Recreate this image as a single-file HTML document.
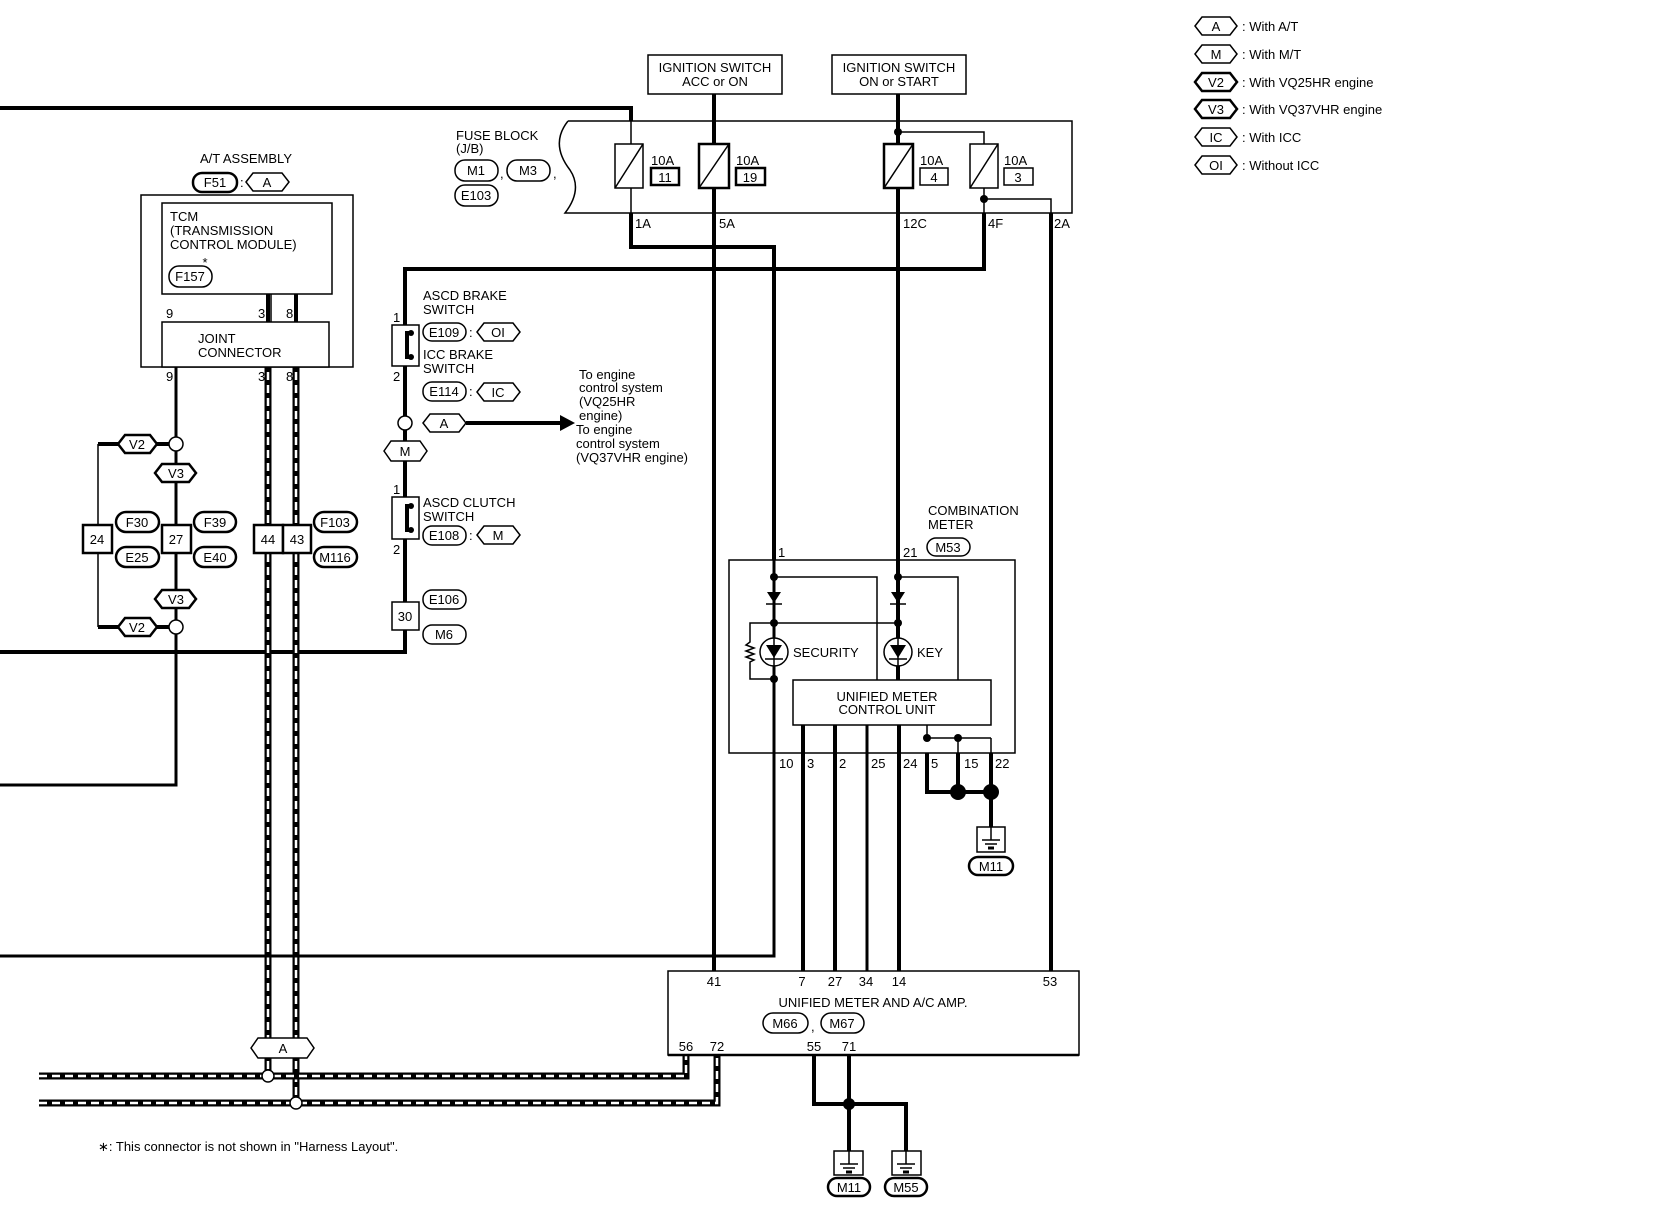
<!DOCTYPE html>
<html><head><meta charset="utf-8"><style>
html,body{margin:0;padding:0;background:#fff}
svg{display:block}
text{font-family:"Liberation Sans",sans-serif;font-size:13px;fill:#000}
.t{fill:none;stroke:#000;stroke-width:1.5}
.k{fill:none;stroke:#000;stroke-width:4}
.m{fill:none;stroke:#000;stroke-width:3}
.b{fill:#fff;stroke:#000;stroke-width:1.5}
.bb{fill:#fff;stroke:#000;stroke-width:2.5}
.dw{fill:none;stroke:#000;stroke-width:7}
.dd{fill:none;stroke:#fff;stroke-width:2.5;stroke-dasharray:8 5}
</style></head><body>
<svg width="1660" height="1216" viewBox="0 0 1660 1216" xmlns="http://www.w3.org/2000/svg">
<!-- legend -->
<g>
<polygon class="b" points="1195,26 1202,17 1230,17 1237,26 1230,35 1202,35"/><text x="1216" y="31" text-anchor="middle">A</text><text x="1242" y="31">: With A/T</text>
<polygon class="b" points="1195,54 1202,45 1230,45 1237,54 1230,63 1202,63"/><text x="1216" y="59" text-anchor="middle">M</text><text x="1242" y="59">: With M/T</text>
<polygon class="bb" points="1195,82 1202,73 1230,73 1237,82 1230,91 1202,91"/><text x="1216" y="87" text-anchor="middle">V2</text><text x="1242" y="87">: With VQ25HR engine</text>
<polygon class="bb" points="1195,109 1202,100 1230,100 1237,109 1230,118 1202,118"/><text x="1216" y="114" text-anchor="middle">V3</text><text x="1242" y="114">: With VQ37VHR engine</text>
<polygon class="b" points="1195,137 1202,128 1230,128 1237,137 1230,146 1202,146"/><text x="1216" y="142" text-anchor="middle">IC</text><text x="1242" y="142">: With ICC</text>
<polygon class="b" points="1195,165 1202,156 1230,156 1237,165 1230,174 1202,174"/><text x="1216" y="170" text-anchor="middle">OI</text><text x="1242" y="170">: Without ICC</text>
</g>

<!-- wires -->
<polyline class="k" points="0,108 631,108 631,121"/>
<line class="t" x1="631" y1="121" x2="631" y2="213"/>
<polyline class="k" points="631,213 631,247 774,247 774,560"/>
<line class="k" x1="714" y1="94" x2="714" y2="971"/>
<line class="k" x1="898" y1="94" x2="898" y2="146"/>
<line class="k" x1="898" y1="188" x2="898" y2="680"/>
<polyline class="t" points="898,132 984,132 984,146"/>
<line class="t" x1="984" y1="188" x2="984" y2="213"/>
<polyline class="k" points="984,213 984,269 405,269 405,652 0,652"/>
<polyline class="t" points="984,199 1051,199 1051,213"/>
<line class="k" x1="1051" y1="213" x2="1051" y2="971"/>
<!-- left wire 9 -->
<line class="m" x1="176" y1="294" x2="176" y2="322"/>
<polyline class="m" points="176,367 176,785 0,785"/>
<line class="k" x1="98" y1="444" x2="176" y2="444"/>
<line class="k" x1="98" y1="627" x2="176" y2="627"/>
<line class="t" x1="98" y1="444" x2="98" y2="627"/>
<!-- dashed harness wires -->
<polyline class="dw" points="268,294 268,1076"/>
<polyline class="dd" points="268,294 268,1076"/>
<polyline class="dw" points="296,294 296,1103"/>
<polyline class="dd" points="296,294 296,1103"/>
<polyline class="dw" points="39,1076 686,1076 686,1055"/>
<polyline class="dd" points="39,1076 686,1076 686,1055"/>
<polyline class="dw" points="39,1103 717,1103 717,1055"/>
<polyline class="dd" points="39,1103 717,1103 717,1055"/>
<!-- arrow -->
<line class="k" x1="466" y1="423" x2="562" y2="423"/>
<polygon points="560,415 575,423 560,431" fill="#000"/>
<!-- meter lower wires -->
<polyline class="m" points="774,753 774,956 0,956"/>
<polyline class="k" points="803,725 803,971"/>
<polyline class="k" points="835,725 835,971"/>
<polyline class="m" points="867,725 867,971"/>
<polyline class="k" points="899,725 899,971"/>
<polyline class="k" points="814,1055 814,1104 906,1104 906,1151"/>
<polyline class="k" points="849,1055 849,1151"/>
<circle cx="849" cy="1104" r="6"/>

<!-- ignition boxes -->
<rect class="b" x="648" y="55" width="134" height="39"/>
<text x="715" y="72" text-anchor="middle">IGNITION SWITCH</text>
<text x="715" y="86" text-anchor="middle">ACC or ON</text>
<rect class="b" x="832" y="55" width="134" height="39"/>
<text x="899" y="72" text-anchor="middle">IGNITION SWITCH</text>
<text x="899" y="86" text-anchor="middle">ON or START</text>

<!-- fuse block -->
<path class="t" d="M568,121 L1072,121 L1072,213 L565,213 C575,200 580,185 570,170 C556,152 556,136 568,121"/>
<text x="456" y="140">FUSE BLOCK</text>
<text x="456" y="153">(J/B)</text>
<rect class="b" x="455" y="160" width="43" height="21" rx="10"/><text x="476" y="175" text-anchor="middle">M1</text>
<text x="500" y="178">,</text>
<rect class="b" x="507" y="160" width="43" height="21" rx="10"/><text x="528" y="175" text-anchor="middle">M3</text>
<text x="553" y="178">,</text>
<rect class="b" x="455" y="185" width="43" height="21" rx="10"/><text x="476" y="200" text-anchor="middle">E103</text>
<g>
<rect class="b" x="615" y="144" width="28" height="44"/><line class="t" x1="615" y1="188" x2="643" y2="144"/>
<text x="651" y="165">10A</text><rect class="bb" x="651" y="168" width="28" height="17"/><text x="665" y="182" text-anchor="middle">11</text>
<rect class="bb" x="699" y="144" width="30" height="44"/><line class="t" x1="699" y1="188" x2="729" y2="144"/>
<text x="736" y="165">10A</text><rect class="bb" x="736" y="168" width="29" height="17"/><text x="750" y="182" text-anchor="middle">19</text>
<rect class="bb" x="884" y="144" width="29" height="44"/><line class="t" x1="884" y1="188" x2="913" y2="144"/>
<text x="920" y="165">10A</text><rect class="b" x="920" y="168" width="28" height="17"/><text x="934" y="182" text-anchor="middle">4</text>
<rect class="b" x="970" y="144" width="28" height="44"/><line class="t" x1="970" y1="188" x2="998" y2="144"/>
<text x="1004" y="165">10A</text><rect class="b" x="1004" y="168" width="29" height="17"/><text x="1018" y="182" text-anchor="middle">3</text>
<circle cx="898" cy="132" r="4"/><circle cx="984" cy="199" r="4"/>
<text x="635" y="228">1A</text><text x="719" y="228">5A</text><text x="903" y="228">12C</text><text x="988" y="228">4F</text><text x="1054" y="228">2A</text>
</g>

<!-- A/T assembly -->
<text x="246" y="163" text-anchor="middle">A/T ASSEMBLY</text>
<rect class="bb" x="193" y="173" width="44" height="19" rx="9"/><text x="215" y="187" text-anchor="middle">F51</text>
<text x="240" y="187">:</text>
<polygon class="b" points="246,182 253,173 282,173 289,182 282,191 253,191"/><text x="267" y="187" text-anchor="middle">A</text>
<rect class="b" x="141" y="195" width="212" height="172"/>
<rect class="b" x="162" y="203" width="170" height="91"/>
<text x="170" y="221">TCM</text><text x="170" y="235">(TRANSMISSION</text><text x="170" y="249"> CONTROL MODULE)</text>
<text x="205" y="267" text-anchor="middle" font-size="16">*</text>
<rect class="b" x="169" y="266" width="43" height="21" rx="10"/><text x="190" y="281" text-anchor="middle">F157</text>
<rect class="b" x="162" y="322" width="167" height="45"/>
<text x="198" y="343">JOINT</text><text x="198" y="357">CONNECTOR</text>
<line class="k" x1="268" y1="294" x2="268" y2="322"/><line class="k" x1="296" y1="294" x2="296" y2="322"/>
<line class="t" x1="271" y1="294" x2="271" y2="322"/>
<text x="166" y="318" font-size="12">9</text><text x="258" y="318" font-size="12">3</text><text x="286" y="318" font-size="12">8</text>
<text x="166" y="381" font-size="12">9</text><text x="258" y="381" font-size="12">3</text><text x="286" y="381" font-size="12">8</text>

<!-- left connector cluster -->
<circle class="b" cx="176" cy="444" r="7"/><circle class="b" cx="176" cy="627" r="7"/>
<polygon class="bb" points="118,444 125,435 150,435 157,444 150,453 125,453"/><text x="137" y="449" text-anchor="middle">V2</text>
<polygon class="bb" points="118,627 125,618 150,618 157,627 150,636 125,636"/><text x="137" y="632" text-anchor="middle">V2</text>
<polygon class="bb" points="155,473 162,464 189,464 196,473 189,482 162,482"/><text x="176" y="478" text-anchor="middle">V3</text>
<polygon class="bb" points="155,599 162,590 189,590 196,599 189,608 162,608"/><text x="176" y="604" text-anchor="middle">V3</text>
<rect class="bb" x="83" y="525" width="29" height="28"/><text x="97" y="544" text-anchor="middle">24</text>
<rect class="bb" x="162" y="525" width="29" height="28"/><text x="176" y="544" text-anchor="middle">27</text>
<rect class="bb" x="116" y="512" width="43" height="20" rx="10"/><text x="137" y="527" text-anchor="middle">F30</text>
<rect class="bb" x="116" y="547" width="43" height="20" rx="10"/><text x="137" y="562" text-anchor="middle">E25</text>
<rect class="bb" x="194" y="512" width="42" height="20" rx="10"/><text x="215" y="527" text-anchor="middle">F39</text>
<rect class="bb" x="194" y="547" width="42" height="20" rx="10"/><text x="215" y="562" text-anchor="middle">E40</text>
<rect class="bb" x="254" y="525" width="29" height="28"/><text x="268" y="544" text-anchor="middle">44</text>
<rect class="bb" x="283" y="525" width="28" height="28"/><text x="297" y="544" text-anchor="middle">43</text>
<rect class="bb" x="314" y="512" width="43" height="20" rx="10"/><text x="335" y="527" text-anchor="middle">F103</text>
<rect class="bb" x="314" y="547" width="43" height="20" rx="10"/><text x="335" y="562" text-anchor="middle">M116</text>

<!-- A hex bottom -->
<polygon class="b" points="251,1048 258,1038 307,1038 314,1048 307,1058 258,1058"/><text x="283" y="1053" text-anchor="middle">A</text>
<circle class="b" cx="268" cy="1076" r="6"/><circle class="b" cx="296" cy="1103" r="6"/>

<!-- switches -->
<text x="423" y="300">ASCD BRAKE</text><text x="423" y="314">SWITCH</text>
<rect class="b" x="423" y="323" width="43" height="18" rx="9"/><text x="444" y="337" text-anchor="middle">E109</text>
<text x="469" y="337">:</text>
<polygon class="b" points="477,332 484,323 513,323 520,332 513,341 484,341"/><text x="498" y="337" text-anchor="middle">OI</text>
<text x="423" y="359">ICC BRAKE</text><text x="423" y="373">SWITCH</text>
<rect class="b" x="423" y="382" width="43" height="19" rx="9"/><text x="444" y="396" text-anchor="middle">E114</text>
<text x="469" y="396">:</text>
<polygon class="b" points="477,392 484,383 513,383 520,392 513,401 484,401"/><text x="498" y="397" text-anchor="middle">IC</text>
<rect class="b" x="392" y="325" width="27" height="41"/>
<polyline fill="none" stroke="#000" stroke-width="4" points="411,333 407,333 407,357 411,357"/>
<circle cx="411" cy="333" r="3"/><circle cx="411" cy="357" r="3"/>
<text x="393" y="322" font-size="12">1</text><text x="393" y="381" font-size="12">2</text>
<circle class="b" cx="405" cy="423" r="7"/>
<polygon class="b" points="423,423 430,414 459,414 466,423 459,432 430,432"/><text x="444" y="428" text-anchor="middle">A</text>
<polygon class="b" points="384,451 391,441 420,441 427,451 420,461 391,461"/><text x="405" y="456" text-anchor="middle">M</text>
<text x="579" y="379">To engine</text><text x="579" y="392">control system</text><text x="579" y="406">(VQ25HR</text><text x="579" y="420"> engine)</text>
<text x="576" y="434">To engine</text><text x="576" y="448">control system</text><text x="576" y="462">(VQ37VHR engine)</text>
<rect class="b" x="392" y="497" width="27" height="42"/>
<polyline fill="none" stroke="#000" stroke-width="4" points="411,506 407,506 407,530 411,530"/>
<circle cx="411" cy="506" r="3"/><circle cx="411" cy="530" r="3"/>
<text x="393" y="494" font-size="12">1</text><text x="393" y="554" font-size="12">2</text>
<text x="423" y="507">ASCD CLUTCH</text><text x="423" y="521">SWITCH</text>
<rect class="b" x="423" y="526" width="43" height="19" rx="9"/><text x="444" y="540" text-anchor="middle">E108</text>
<text x="469" y="540">:</text>
<polygon class="b" points="477,535 484,526 513,526 520,535 513,544 484,544"/><text x="498" y="540" text-anchor="middle">M</text>
<rect class="b" x="392" y="602" width="27" height="28"/><text x="405" y="621" text-anchor="middle">30</text>
<rect class="b" x="423" y="590" width="43" height="19" rx="9"/><text x="444" y="604" text-anchor="middle">E106</text>
<rect class="b" x="423" y="625" width="43" height="19" rx="9"/><text x="444" y="639" text-anchor="middle">M6</text>

<!-- combination meter -->
<text x="928" y="515">COMBINATION</text><text x="928" y="529">METER</text>
<rect class="b" x="927" y="538" width="43" height="18" rx="9"/><text x="948" y="552" text-anchor="middle">M53</text>
<text x="778" y="557">1</text><text x="903" y="557">21</text>
<rect x="729" y="560" width="286" height="193" style="fill:none;stroke:#000;stroke-width:1.5"/>
<line class="m" x1="774" y1="560" x2="774" y2="760"/>
<line class="k" x1="898" y1="560" x2="898" y2="680"/>
<polyline class="t" points="774,577 877,577 877,680"/>
<polyline class="t" points="898,577 958,577 958,680"/>
<polygon points="767,592 781,592 774,603"/><line class="t" x1="766" y1="604" x2="782" y2="604"/>
<polygon points="891,592 905,592 898,603"/><line class="t" x1="890" y1="604" x2="906" y2="604"/>
<line class="t" x1="774" y1="623" x2="898" y2="623"/>
<polyline class="t" points="774,623 750,623 750,642 746,645 754,648 746,651 754,654 746,657 754,660 750,662 750,679 774,679"/>
<circle cx="774" cy="577" r="4"/><circle cx="898" cy="577" r="4"/><circle cx="774" cy="623" r="4"/><circle cx="898" cy="623" r="4"/><circle cx="774" cy="679" r="4"/>
<circle class="b" cx="774" cy="652" r="14"/><polygon points="766,645 782,645 774,658"/><line class="t" x1="765" y1="659" x2="783" y2="659"/><line class="t" x1="774" y1="638" x2="774" y2="666"/>
<circle class="b" cx="898" cy="652" r="14"/><polygon points="890,645 906,645 898,658"/><line class="t" x1="889" y1="659" x2="907" y2="659"/><line class="t" x1="898" y1="638" x2="898" y2="666"/>
<text x="793" y="657">SECURITY</text><text x="917" y="657">KEY</text>
<rect class="b" x="793" y="680" width="198" height="45"/>
<text x="887" y="701" text-anchor="middle">UNIFIED METER</text><text x="887" y="714" text-anchor="middle">CONTROL UNIT</text>
<polyline class="t" points="927,725 927,738 991,738"/><line class="t" x1="958" y1="738" x2="958" y2="753"/><line class="t" x1="991" y1="738" x2="991" y2="753"/>
<circle cx="927" cy="738" r="4"/><circle cx="958" cy="738" r="4"/>
<polyline class="k" points="927,753 927,792 991,792"/><line class="k" x1="958" y1="753" x2="958" y2="792"/><line class="k" x1="991" y1="753" x2="991" y2="827"/>
<circle cx="958" cy="792" r="8"/><circle cx="991" cy="792" r="8"/>
<text x="779" y="768" font-size="12">10</text><text x="807" y="768" font-size="12">3</text><text x="839" y="768" font-size="12">2</text><text x="871" y="768" font-size="12">25</text><text x="903" y="768" font-size="12">24</text><text x="931" y="768" font-size="12">5</text><text x="964" y="768" font-size="12">15</text><text x="995" y="768" font-size="12">22</text>
<rect class="b" x="977" y="827" width="28" height="25"/><line class="t" x1="991" y1="827" x2="991" y2="840"/><line class="t" x1="982" y1="840" x2="1000" y2="840"/><line class="t" x1="985" y1="844" x2="997" y2="844"/><line class="m" x1="988" y1="848" x2="994" y2="848"/>
<rect class="bb" x="969" y="857" width="44" height="18" rx="9"/><text x="991" y="871" text-anchor="middle">M11</text>

<!-- unified meter and A/C amp -->
<rect class="b" x="668" y="971" width="411" height="84"/>
<line x1="668" y1="1055" x2="1079" y2="1055" stroke="#000" stroke-width="2.5"/>
<text x="714" y="986" text-anchor="middle" font-size="12">41</text><text x="802" y="986" text-anchor="middle" font-size="12">7</text><text x="835" y="986" text-anchor="middle" font-size="12">27</text><text x="866" y="986" text-anchor="middle" font-size="12">34</text><text x="899" y="986" text-anchor="middle" font-size="12">14</text><text x="1050" y="986" text-anchor="middle" font-size="12">53</text>
<text x="873" y="1007" text-anchor="middle">UNIFIED METER AND A/C AMP.</text>
<rect class="b" x="763" y="1013" width="45" height="20" rx="10"/><text x="785" y="1028" text-anchor="middle">M66</text>
<text x="811" y="1031">,</text>
<rect class="b" x="821" y="1013" width="43" height="20" rx="10"/><text x="842" y="1028" text-anchor="middle">M67</text>
<text x="686" y="1051" text-anchor="middle" font-size="12">56</text><text x="717" y="1051" text-anchor="middle" font-size="12">72</text><text x="814" y="1051" text-anchor="middle" font-size="12">55</text><text x="849" y="1051" text-anchor="middle" font-size="12">71</text>
<rect class="b" x="834" y="1151" width="29" height="24"/><line class="t" x1="849" y1="1151" x2="849" y2="1164"/><line class="t" x1="840" y1="1164" x2="858" y2="1164"/><line class="t" x1="843" y1="1168" x2="855" y2="1168"/><line class="m" x1="846" y1="1172" x2="852" y2="1172"/>
<rect class="b" x="892" y="1151" width="29" height="24"/><line class="t" x1="906" y1="1151" x2="906" y2="1164"/><line class="t" x1="897" y1="1164" x2="915" y2="1164"/><line class="t" x1="900" y1="1168" x2="912" y2="1168"/><line class="m" x1="903" y1="1172" x2="909" y2="1172"/>
<rect class="bb" x="828" y="1178" width="42" height="18" rx="9"/><text x="849" y="1192" text-anchor="middle">M11</text>
<rect class="bb" x="885" y="1178" width="42" height="18" rx="9"/><text x="906" y="1192" text-anchor="middle">M55</text>

<text x="98" y="1151" font-size="12">∗: This connector is not shown in "Harness Layout".</text>
</svg>
</body></html>
